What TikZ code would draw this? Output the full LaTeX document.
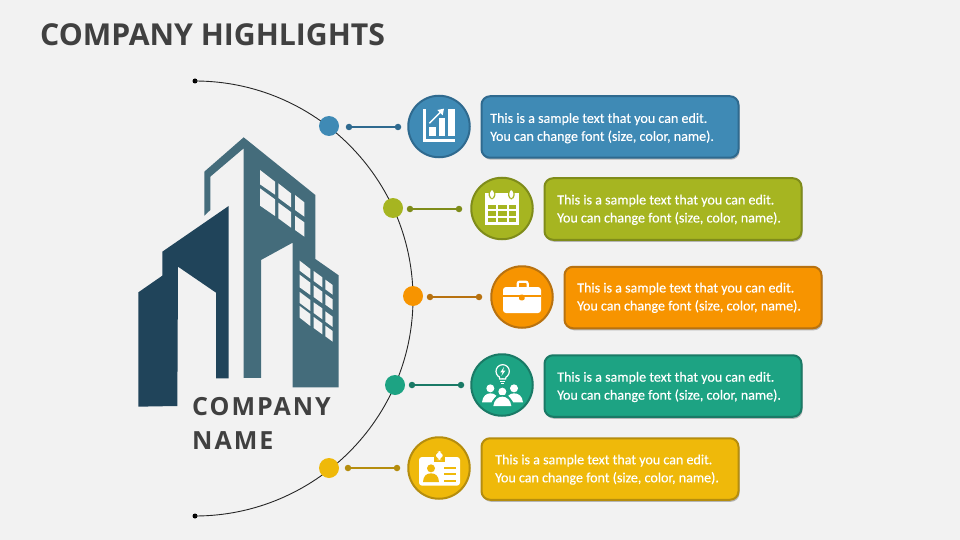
\documentclass[tikz,border=0pt]{standalone}
\usepackage{fontspec}
\setmainfont{Carlito}
\newfontfamily\headfont{Open Sans}
\usetikzlibrary{shadows}
\definecolor{bgc}{HTML}{F2F2F2}
\definecolor{txtc}{HTML}{404040}
\definecolor{bdark}{HTML}{20445A}
\definecolor{blight}{HTML}{446C7B}
\definecolor{cA}{HTML}{3F8AB5}\definecolor{dA}{HTML}{2F6A8F}
\definecolor{cB}{HTML}{A6B521}\definecolor{dB}{HTML}{7F8C1A}
\definecolor{cC}{HTML}{F79400}\definecolor{dC}{HTML}{B87210}
\definecolor{cD}{HTML}{1DA383}\definecolor{dD}{HTML}{1A7A66}
\definecolor{cE}{HTML}{EFB90A}\definecolor{dE}{HTML}{B58D0E}
\tikzset{
  bigdot/.style={circle,fill=#1,minimum size=20pt,inner sep=0pt},
  tipdot/.style={circle,fill=#1,minimum size=6.5pt,inner sep=0pt},
  endpt/.style={circle,fill=black,minimum size=5pt,inner sep=0pt},
  link/.style={draw=#1,line width=2pt},
  iconring/.style={circle,fill=c#1,draw=d#1,line width=2pt,minimum size=61.5pt,inner sep=0pt},
  card/.style={draw=d#1,fill=c#1,line width=2pt,rounded corners=8.5pt,minimum width=257pt,minimum height=61.5pt,
    anchor=west,drop shadow={shadow xshift=1pt,shadow yshift=-2pt,opacity=.25,fill=black}},
  cardtext/.style={anchor=west,inner sep=0pt,text=white,align=left,
    font=\fontsize{14.05}{18}\selectfont\addfontfeatures{FakeBold=0.3}},
  iconscope/.style={shift={#1},x=.33333pt,y=-.33333pt},
  win/.style={fill=bgc},
  heading/.style={anchor=west,inner sep=0pt,text=txtc,font=\headfont\bfseries\fontsize{#1}{36}\selectfont},
}
\begin{document}
\begin{tikzpicture}[x=1pt,y=-1pt]
\useasboundingbox (0,0) rectangle (960,540);
\fill[bgc] (0,0) rectangle (960,540);
\node[heading=30.2] (title) at (40,34.5) {COMPANY HIGHLIGHTS};

% building
\begin{scope}[iconscope={(120,120)}]
\fill[bdark] (55,517)--(127,467)--(127,395)--(326,258)--(326,775)--(288,775)--(288,518)--(174,440)--(172,858)--(55,860)--cycle;
\fill[blight] (371,52)--(586,225)--(586,417)--(656,466)--(656,802)--(518,802)--(518,368)--(423,420)--(423,774)--(371,774)--(371,85)--(271,170)--(271,270)--(253,287)--(253,155)--cycle;
\fill[win] (420,150)--(465,185)--(465,224)--(420,193)--cycle;
\fill[win] (420,205)--(465,238)--(465,288)--(420,257)--cycle;
\fill[win] (475,190)--(513,220)--(513,262)--(475,234)--cycle;
\fill[win] (475,248)--(513,276)--(513,323)--(475,295)--cycle;
\fill[win] (525,225)--(553,247)--(553,290)--(525,270)--cycle;
\fill[win] (525,287)--(553,307)--(553,350)--(525,330)--cycle;
\fill[win] (539,422)--(571,447)--(571,476)--(539,452)--cycle;
\fill[win] (539,464)--(571,488)--(571,525)--(539,502)--cycle;
\fill[win] (539,516)--(571,540)--(571,573)--(539,549)--cycle;
\fill[win] (539,558)--(571,582)--(571,618)--(539,593)--cycle;
\fill[win] (581,453)--(607,472)--(607,502)--(581,483)--cycle;
\fill[win] (581,496)--(607,515)--(607,550)--(581,531)--cycle;
\fill[win] (581,547)--(607,565)--(607,598)--(581,579)--cycle;
\fill[win] (581,591)--(607,610)--(607,643)--(581,624)--cycle;
\fill[win] (616,479)--(638,495)--(638,524)--(616,508)--cycle;
\fill[win] (616,522)--(638,538)--(638,570)--(616,554)--cycle;
\fill[win] (616,574)--(638,590)--(638,621)--(616,605)--cycle;
\fill[win] (616,617)--(638,633)--(638,665)--(616,649)--cycle;
\end{scope}
\node[heading=25,font=\headfont\bfseries\fontsize{25}{30}\selectfont\addfontfeatures{LetterSpace=8}] (cname1) at (192,407) {COMPANY};
\node[heading=25,font=\headfont\bfseries\fontsize{25}{30}\selectfont\addfontfeatures{LetterSpace=8}] (cname2) at (192,441) {NAME};

% arc
\node[endpt] (top) at (195,81) {};
\node[endpt] (bot) at (195,516) {};
\draw[line width=.9pt,black!85] (top.center) .. controls (315,81) and (413,178.5) .. (413,298.5) .. controls (413,418.5) and (315,516) .. (bot.center);

% dots
\node[bigdot=cA] (n1) at (329,126) {};
\node[bigdot=cB] (n2) at (393,208) {};
\node[bigdot=cC] (n3) at (413,296) {};
\node[bigdot=cD] (n4) at (395,385) {};
\node[bigdot=cE] (n5) at (329,468) {};
% connectors
\node[tipdot=dA] (a1) at (349,127) {}; \node[tipdot=dA] (b1) at (398,127) {};
\node[tipdot=dB] (a2) at (410,209) {}; \node[tipdot=dB] (b2) at (459,209) {};
\node[tipdot=dC] (a3) at (430,297) {}; \node[tipdot=dC] (b3) at (479,297) {};
\node[tipdot=dD] (a4) at (412,385) {}; \node[tipdot=dD] (b4) at (461,385) {};
\node[tipdot=dE] (a5) at (348,468) {}; \node[tipdot=dE] (b5) at (397,468) {};
\draw[link=dA] (a1)--(b1);
\draw[link=dB] (a2)--(b2);
\draw[link=dC] (a3)--(b3);
\draw[link=dD] (a4)--(b4);
\draw[link=dE] (a5)--(b5);

% icon rings
\node[iconring=A] (i1) at (439,126.5) {};
\node[iconring=B] (i2) at (502,208.5) {};
\node[iconring=C] (i3) at (522,297) {};
\node[iconring=D] (i4) at (502,385) {};
\node[iconring=E] (i5) at (439,468) {};

% cards
\node[card=A] (c1) at (480.5,127) {};
\node[card=B] (c2) at (543.5,209) {};
\node[card=C] (c3) at (563.5,297.5) {};
\node[card=D] (c4) at (543.5,386) {};
\node[card=E] (c5) at (480.5,469) {};
\node[cardtext] (t1) at ([xshift=9.5pt,yshift=-1.2pt]c1.west) {This is a sample text that you can edit.\\You can change font (size, color, name).};
\node[cardtext] (t2) at ([xshift=13.5pt,yshift=-.8pt]c2.west) {This is a sample text that you can edit.\\You can change font (size, color, name).};
\node[cardtext] (t3) at ([xshift=13.5pt,yshift=-.3pt]c3.west) {This is a sample text that you can edit.\\You can change font (size, color, name).};
\node[cardtext] (t4) at ([xshift=13.5pt,yshift=-1pt]c4.west) {This is a sample text that you can edit.\\You can change font (size, color, name).};
\node[cardtext] (t5) at ([xshift=14.5pt,yshift=-.6pt]c5.west) {This is a sample text that you can edit.\\You can change font (size, color, name).};

% icon 1: chart
\begin{scope}[iconscope={(310,85)}]
\fill[white] (339,72) rectangle (347,170);
\fill[white] (339,162) rectangle (435,170);
\fill[white] (356,125) rectangle (377,153);
\fill[white] (386,100) rectangle (406,153);
\fill[white] (415,72) rectangle (435,153);
\draw[white,line width=1.5pt] (358,115)--(396,77);
\fill[white] (402,71)--(382,75)--(398,91)--cycle;
\end{scope}
% icon 2: calendar
\begin{scope}[iconscope={(310,85)}]
\fill[white] (525,323) rectangle (627,419);
\foreach \cx in {546,604}{
  \fill[cB,rounded corners=4pt] (\cx-10,313) rectangle (\cx+10,343);
  \fill[white,rounded corners=3pt] (\cx-6,316) rectangle (\cx+6,339);
}
\foreach \xa/\xb in {535/558,565/590,597/617}{
  \foreach \ya/\yb in {360/372,379/392,399/410}{
    \fill[cB] (\xa,\ya) rectangle (\xb,\yb);
  }
}
\end{scope}
% icon 3: briefcase
\begin{scope}[iconscope={(380,255)}]
\draw[white,line width=2.2pt,rounded corners=2pt] (413,96)--(413,80)--(443,80)--(443,96);
\fill[white,rounded corners=3pt] (369,96) rectangle (483,174);
\fill[cC] (369,121) rectangle (483,125);
\fill[cC,rounded corners=2pt] (417,119) rectangle (434,136);
\end{scope}
% icon 4: bulb and people
\begin{scope}[iconscope={(380,255)}]
\draw[white,line width=1.2pt] (368,349) circle[radius=20];
\fill[cD] (359,360) rectangle (377,368);
\draw[white,line width=1.2pt] (358,365)--(359,372)--(377,372)--(378,365);
\draw[white,line width=1.2pt] (361,379)--(375,379);
\draw[white,line width=1.2pt] (364,385)--(372,385);
\fill[white] (372,336)--(361,352)--(368,352)--(364,363)--(376,347)--(369,347)--cycle;
\fill[white] (331,400) circle[radius=12];
\fill[white] (402,400) circle[radius=12];
\fill[white] (306,442) .. controls (308,422) and (320,415) .. (331,415) .. controls (338,415) and (344,417) .. (349,422) -- (336,442) -- cycle;
\fill[white] (429,442) .. controls (427,422) and (415,415) .. (402,415) .. controls (396,415) and (390,417) .. (385,422) -- (398,442) -- cycle;
\fill[cD] (367,410) circle[radius=16];
\fill[white] (367,410) circle[radius=12];
\fill[cD] (332,453) .. controls (336,430) and (350,420) .. (367,420) .. controls (384,420) and (398,430) .. (402,453) -- cycle;
\fill[white] (340,453) .. controls (342,435) and (354,425) .. (367,425) .. controls (380,425) and (392,435) .. (394,453) -- cycle;
\end{scope}
% icon 5: badge
\begin{scope}[iconscope={(380,255)}]
\fill[white,rounded corners=3pt] (117,606) rectangle (240,692);
\fill[cE] (162,606) rectangle (194,621);
\fill[white,rounded corners=6pt] (168,588) rectangle (188,615);
\fill[cE] (153,640) circle[radius=12];
\fill[cE] (129,681) .. controls (130,662) and (140,655) .. (153,655) .. controls (166,655) and (176,662) .. (177,681) -- cycle;
\fill[cE] (192,637) rectangle (228,643);
\fill[cE] (192,655) rectangle (228,661);
\fill[cE] (192,674) rectangle (228,680);
\end{scope}
\end{tikzpicture}
\end{document}
